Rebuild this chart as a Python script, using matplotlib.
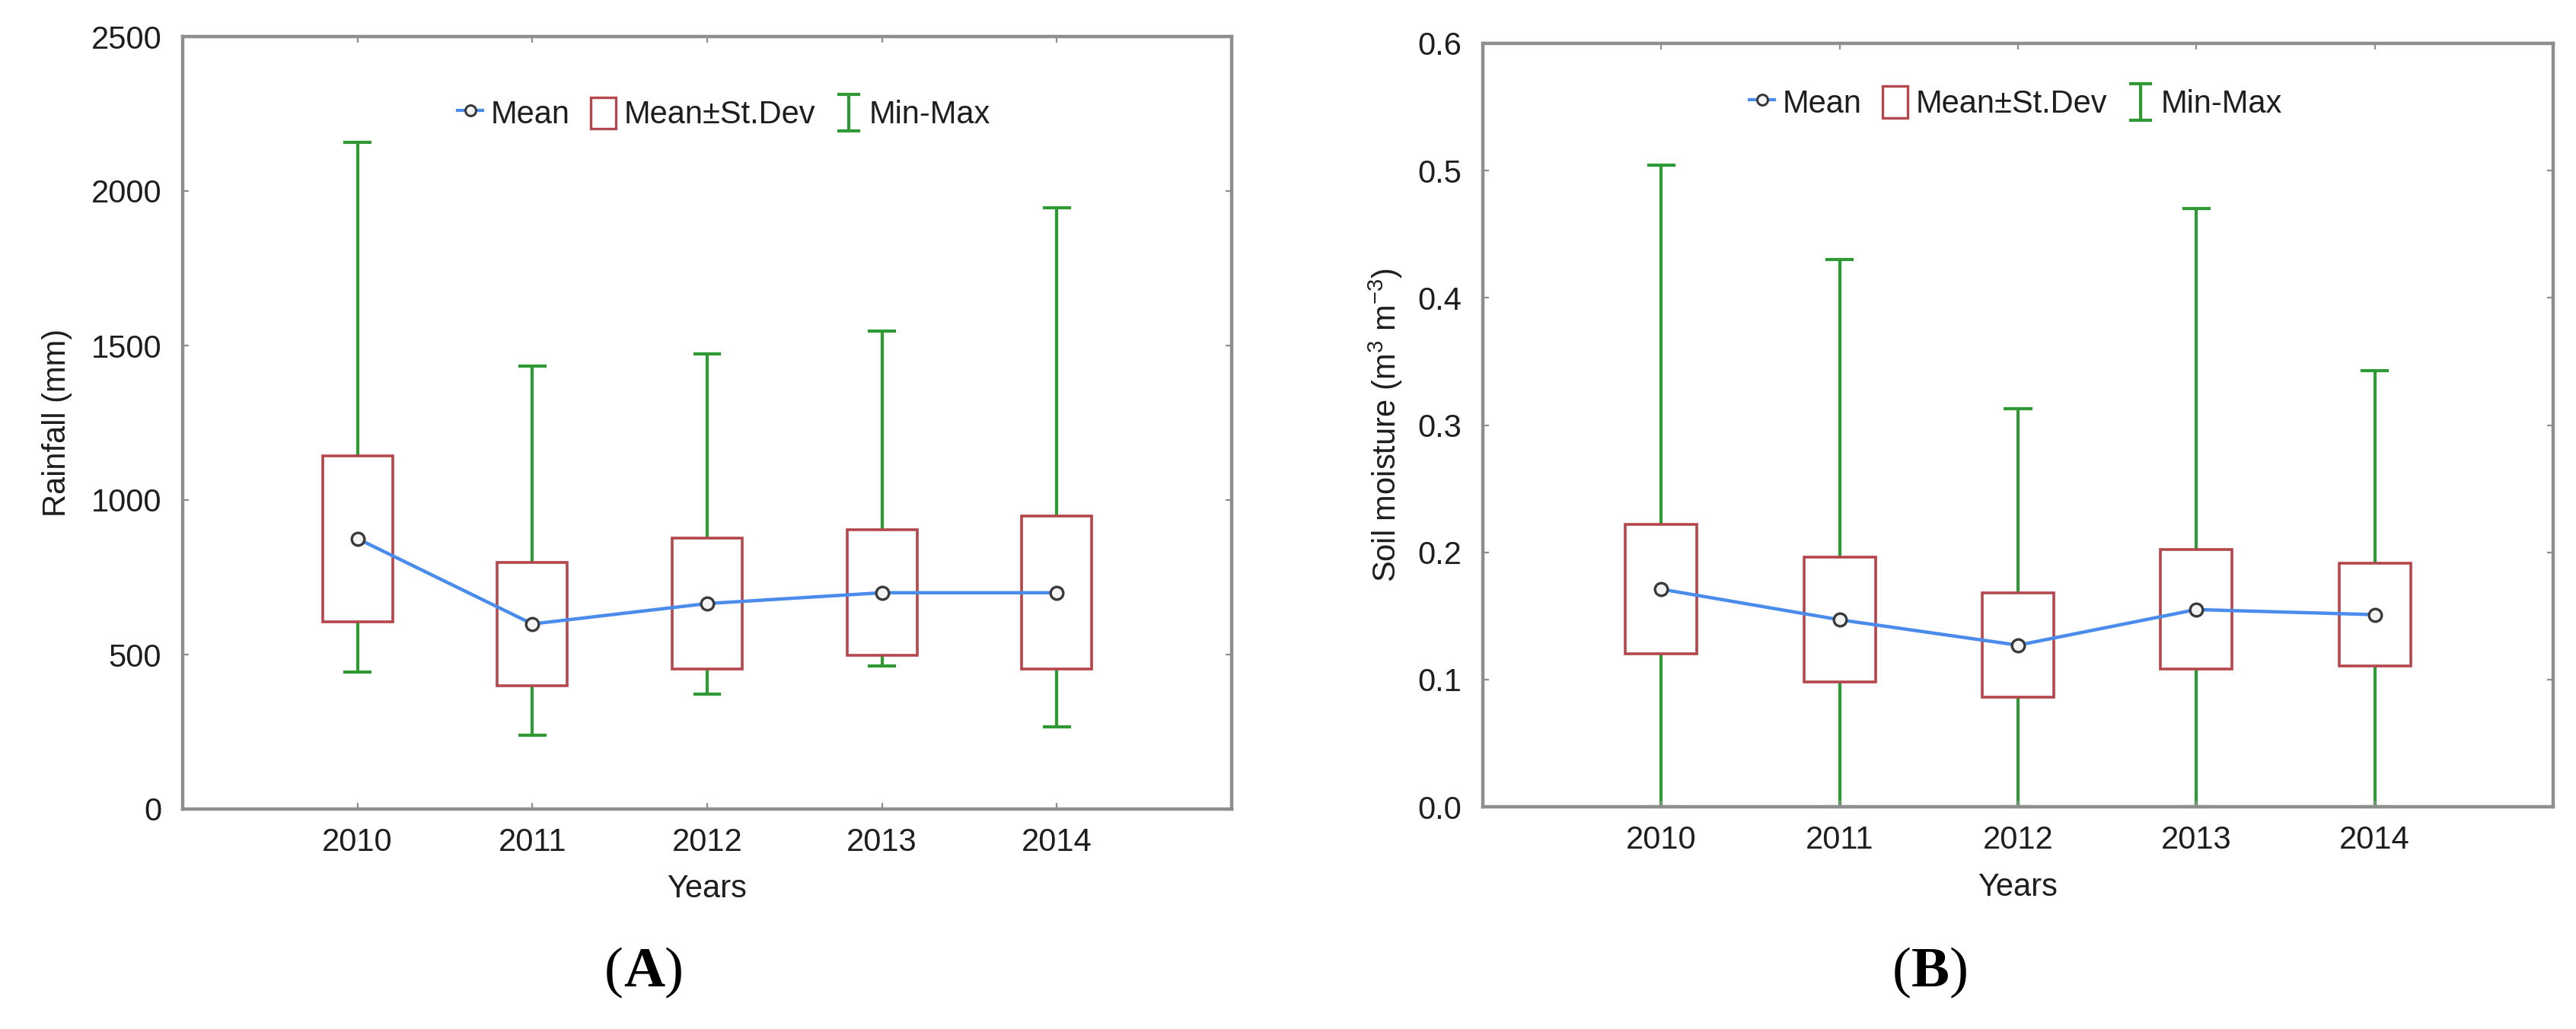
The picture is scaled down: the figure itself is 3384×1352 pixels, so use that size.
import matplotlib
matplotlib.use("Agg")
import matplotlib.pyplot as plt
from matplotlib.patches import Rectangle, Patch
from matplotlib.lines import Line2D
from matplotlib.legend_handler import HandlerBase
from matplotlib.offsetbox import TextArea, HPacker, AnchoredOffsetbox

# ---------------- data ----------------
years = [2010, 2011, 2012, 2013, 2014]

rain_mean = [875, 599, 665, 700, 700]
rain_sd = [268, 199, 211, 203, 248]
rain_min = [443, 239, 373, 464, 265]
rain_max = [2157, 1434, 1472, 1547, 1945]

soil_mean = [0.171, 0.147, 0.127, 0.155, 0.151]
soil_sd = [0.051, 0.049, 0.041, 0.047, 0.0405]
soil_min = [0.0, 0.0, 0.0, 0.0, 0.0]
soil_max = [0.504, 0.430, 0.313, 0.470, 0.343]

rain_ticks = [0, 500, 1000, 1500, 2000, 2500]
soil_ticks = [0.0, 0.1, 0.2, 0.3, 0.4, 0.5, 0.6]

# ---------------- style ----------------
plt.rcParams["font.family"] = ["Liberation Sans", "DejaVu Sans"]
plt.rcParams["mathtext.fontset"] = "custom"
plt.rcParams["mathtext.rm"] = "Liberation Sans"
plt.rcParams["mathtext.it"] = "Liberation Sans:italic"
plt.rcParams["mathtext.bf"] = "Liberation Sans:bold"

BLUE = "#4a8cec"
RED = "#b3474b"
GREEN = "#2f9a33"
SPINE = "#8e8e8e"
TXT = "#1e1e1e"
FS = 30

BOX_W = 0.40
CAP_W = 0.16


class HandlerIBeam(HandlerBase):
    def create_artists(self, legend, orig_handle, xdescent, ydescent,
                       width, height, fontsize, trans):
        cx = width / 2 - xdescent
        y0 = -ydescent - height * 0.08
        y1 = height - ydescent + height * 0.08
        hw = width * 0.45
        kw = dict(color=GREEN, lw=3, transform=trans, solid_capstyle="butt")
        return [Line2D([cx, cx], [y0, y1], **kw),
                Line2D([cx - hw, cx + hw], [y0, y0], **kw),
                Line2D([cx - hw, cx + hw], [y1, y1], **kw)]


def draw_panel(ax, means, sds, mins, maxs, ylim, yticks, fmt, ylabel,
               ylabel_x, xlabel_y, leg_xy):
    # whiskers
    ax.vlines(years, mins, maxs, color=GREEN, lw=3, zorder=1, clip_on=False)
    for x, lo, hi in zip(years, mins, maxs):
        ax.hlines([lo, hi], x - CAP_W / 2, x + CAP_W / 2, color=GREEN, lw=3,
                  zorder=1, clip_on=False)
    # boxes
    for x, m, s in zip(years, means, sds):
        ax.add_patch(Rectangle((x - BOX_W / 2, m - s), BOX_W, 2 * s,
                               facecolor="white", edgecolor=RED, lw=2.6,
                               zorder=2))
    # mean line
    ax.plot(years, means, color=BLUE, lw=3.2, zorder=3)
    ax.plot(years, means, ls="none", marker="o", ms=12, mfc="#f4f4f4",
            mec="#3a3a3a", mew=2.4, zorder=4)

    ax.set_xlim(2009, 2015)
    ax.set_ylim(*ylim)
    ax.set_xticks(years)
    ax.set_xticklabels([str(y) for y in years])
    ax.set_yticks(yticks)
    ax.set_yticklabels([fmt.format(t) for t in yticks])
    ax.tick_params(direction="in", length=6, width=1.6, color=SPINE,
                   labelsize=FS, labelcolor=TXT, top=True, right=True)
    ax.tick_params(axis="x", pad=17)
    ax.tick_params(axis="y", pad=20)
    for sp in ax.spines.values():
        sp.set_color(SPINE)
        sp.set_linewidth(3.2)

    ax.set_ylabel(ylabel, fontsize=FS, color=TXT)
    ax.yaxis.set_label_coords(ylabel_x, 0.5)
    ax.set_xlabel("Years", fontsize=FS, color=TXT)
    ax.xaxis.set_label_coords(0.5, xlabel_y)

    handles = [Line2D([], [], color=BLUE, lw=3, marker="o", ms=10,
                      mfc="#f4f4f4", mec="#3a3a3a", mew=2.2),
               Patch(facecolor="white", edgecolor=RED, lw=2.4),
               "ibeam"]
    labels = ["Mean", "Mean\u00b1St.Dev", "Min-Max"]
    leg = ax.legend(handles, labels, loc="center", bbox_to_anchor=leg_xy,
                    ncol=3, frameon=False, fontsize=FS, numpoints=1,
                    handlelength=0.8, handleheight=1.15, handletextpad=0.25,
                    columnspacing=0.65, borderpad=0,
                    handler_map={str: HandlerIBeam()})
    for t in leg.get_texts():
        t.set_color(TXT)


fig = plt.figure(figsize=(33.84, 13.52), dpi=100)
W, H = 3384, 1352

axA = fig.add_axes([240 / W, 1 - 1063 / H, 1378 / W, 1015 / H])
axB = fig.add_axes([1948 / W, 1 - 1060 / H, 1406 / W, 1003 / H])

draw_panel(axA, rain_mean, rain_sd, rain_min, rain_max, (0, 2500),
           rain_ticks, "{:.0f}", "Rainfall (mm)", -0.105, -0.084,
           (0.516, 0.90))
draw_panel(axB, soil_mean, soil_sd, soil_min, soil_max, (0, 0.6),
           soil_ticks, "{:.1f}",
           r"Soil moisture (m$^{\mathregular{3}}$ m$^{\mathregular{-3}}$)",
           -0.073, -0.086, (0.498, 0.922))


def panel_tag(letter, xc, yc):
    tp_n = dict(fontfamily="Liberation Serif", fontsize=54, color="black")
    tp_b = dict(fontfamily="Liberation Serif", fontsize=54, color="black",
                fontweight="bold")
    box = HPacker(children=[TextArea("(", textprops=tp_n),
                            TextArea(letter, textprops=tp_b),
                            TextArea(")", textprops=tp_n)],
                  pad=0, sep=0, align="baseline")
    anc = AnchoredOffsetbox(loc="center", child=box, pad=0, frameon=False,
                            bbox_to_anchor=(xc / W, 1 - yc / H),
                            bbox_transform=fig.transFigure, borderpad=0)
    fig.add_artist(anc)


panel_tag("A", 846, 1278)
panel_tag("B", 2536, 1278)

fig.savefig("out.png", dpi=100, facecolor="white")
